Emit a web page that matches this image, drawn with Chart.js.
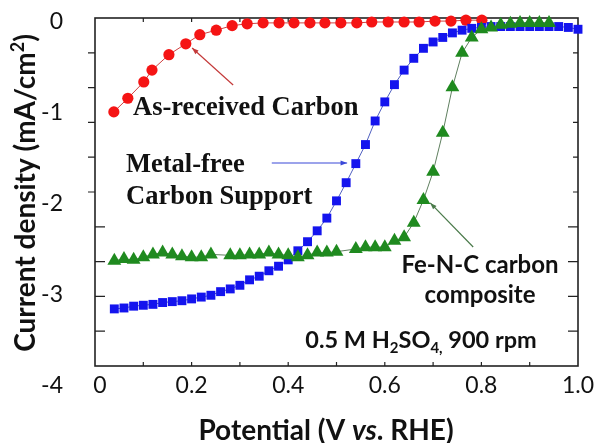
<!DOCTYPE html>
<html>
<head>
<meta charset="utf-8">
<script src="https://cdn.jsdelivr.net/npm/chart.js@4/dist/chart.umd.min.js"></script>
<style>
  html, body { margin: 0; padding: 0; background: #fff; }
  #wrap { width: 594px; height: 443px; }
</style>
</head>
<body>
<div id="wrap"><canvas id="grafico" width="594" height="443"></canvas></div>
<script>
// potential (V vs. RHE) against current density (mA/cm2)
const redX = [0.039, 0.068, 0.101, 0.118, 0.153, 0.188, 0.217, 0.251, 0.284, 0.315, 0.348, 0.381, 0.412,
  0.445, 0.476, 0.509, 0.542, 0.573, 0.607, 0.640, 0.671, 0.704, 0.737, 0.768, 0.801];
const redY = [-0.99, -0.84, -0.66, -0.53, -0.36, -0.24, -0.14, -0.09, -0.04, -0.02, -0.01, -0.01, -0.01,
  -0.01, -0.01, -0.01, -0.01, 0.00, 0.00, 0.00, 0.00, 0.01, 0.01, 0.02, 0.02];

const blueX = [0.04, 0.06, 0.08, 0.10, 0.12, 0.14, 0.16, 0.18, 0.20, 0.22, 0.24, 0.26, 0.28, 0.30, 0.32,
  0.34, 0.36, 0.38, 0.40, 0.42, 0.44, 0.46, 0.48, 0.50, 0.52, 0.54, 0.56, 0.58, 0.60, 0.62, 0.64, 0.66,
  0.68, 0.70, 0.72, 0.74, 0.76, 0.78, 0.80, 0.82, 0.84, 0.86, 0.88, 0.90, 0.92, 0.94, 0.96, 0.98, 1.00];
const blueY = [-3.16, -3.15, -3.13, -3.12, -3.11, -3.09, -3.08, -3.07, -3.05, -3.03, -3.01, -2.97, -2.94,
  -2.90, -2.84, -2.80, -2.74, -2.69, -2.62, -2.52, -2.42, -2.30, -2.16, -1.97, -1.77, -1.56, -1.35, -1.09,
  -0.88, -0.69, -0.53, -0.40, -0.29, -0.22, -0.17, -0.12, -0.09, -0.07, -0.06, -0.05, -0.05, -0.05, -0.05,
  -0.05, -0.05, -0.05, -0.05, -0.06, -0.08];

const greenX = [0.04, 0.06, 0.08, 0.10, 0.12, 0.14, 0.16, 0.18, 0.20, 0.22, 0.24, 0.28, 0.30, 0.32, 0.34,
  0.36, 0.38, 0.40, 0.42, 0.44, 0.46, 0.48, 0.50, 0.54, 0.56, 0.58, 0.60, 0.62, 0.64, 0.66, 0.68, 0.70,
  0.72, 0.74, 0.76, 0.78, 0.80, 0.82, 0.84, 0.86, 0.88, 0.90, 0.92, 0.94];
const greenY = [-2.63, -2.61, -2.62, -2.59, -2.56, -2.54, -2.56, -2.58, -2.59, -2.59, -2.56, -2.57, -2.57,
  -2.56, -2.56, -2.54, -2.56, -2.57, -2.59, -2.57, -2.54, -2.54, -2.53, -2.50, -2.48, -2.48, -2.48, -2.41,
  -2.37, -2.21, -1.96, -1.65, -1.22, -0.72, -0.34, -0.17, -0.08, -0.06, -0.03, -0.02, -0.01, -0.01, -0.01,
  -0.01];

const xTickLabels = ['0', '0.2', '0.4', '0.6', '0.8', '1.0'];
const xTickValues = [0, 0.2, 0.4, 0.6, 0.8, 1.0];
const yTickLabels = ['0', '-1', '-2', '-3', '-4'];
const yTickValues = [0, -1, -2, -3, -4];

const pts = (xs, ys) => xs.map((x, i) => ({ x: x, y: ys[i] }));

const SANS = 'Lato, "Open Sans", sans-serif';
const SERIF = '"Liberation Serif", "Times New Roman", serif';

// writes a line made of several font runs (sub/superscripts)
function runs(ctx, parts, x, y, align) {
  let total = 0;
  parts.forEach(p => { ctx.font = p.font; p.w = ctx.measureText(p.t).width; total += p.w; });
  let cx = align === 'center' ? x - total / 2 : (align === 'right' ? x - total : x);
  ctx.textAlign = 'left';
  ctx.textBaseline = 'alphabetic';
  parts.forEach(p => { ctx.font = p.font; ctx.fillText(p.t, cx, y + (p.dy || 0)); cx += p.w; });
}

function arrow(ctx, x0, y0, x1, y1, color) {
  ctx.save();
  ctx.strokeStyle = color;
  ctx.fillStyle = color;
  ctx.lineWidth = 1.2;
  ctx.beginPath();
  ctx.moveTo(x0, y0);
  ctx.lineTo(x1, y1);
  ctx.stroke();
  const a = Math.atan2(y1 - y0, x1 - x0);
  ctx.beginPath();
  ctx.moveTo(x1, y1);
  ctx.lineTo(x1 - 7 * Math.cos(a - 0.35), y1 - 7 * Math.sin(a - 0.35));
  ctx.lineTo(x1 - 7 * Math.cos(a + 0.35), y1 - 7 * Math.sin(a + 0.35));
  ctx.closePath();
  ctx.fill();
  ctx.restore();
}

const decor = {
  id: 'decor',
  beforeDatasetsDraw(chart) {
    const { ctx, chartArea: a, scales } = chart;
    const sx = scales.x;
    ctx.save();
    ctx.strokeStyle = '#222';
    ctx.lineWidth = 1.6;
    ctx.strokeRect(a.left, a.top, a.right - a.left, a.bottom - a.top);

    ctx.lineWidth = 1.2;
    ctx.beginPath();
    // x minor ticks every 0.1 V, top and bottom, pointing in
    for (let i = 1; i < 10; i++) {
      const px = sx.getPixelForValue(i / 10);
      ctx.moveTo(px, a.bottom); ctx.lineTo(px, a.bottom - 4);
      ctx.moveTo(px, a.top); ctx.lineTo(px, a.top + 4);
    }
    // y ticks: ten equal divisions of the frame
    const h = (a.bottom - a.top) / 10;
    for (let i = 1; i < 10; i++) {
      const py = a.top + i * h;
      if (i <= 5) {
        ctx.moveTo(a.left, py); ctx.lineTo(a.left - 7, py);
        ctx.moveTo(a.right, py); ctx.lineTo(a.right - 5, py);
      } else {
        ctx.moveTo(a.left, py); ctx.lineTo(a.left + 10, py);
        ctx.moveTo(a.right, py); ctx.lineTo(a.right - 10, py);
      }
    }
    ctx.stroke();
    ctx.restore();
  },
  afterDatasetsDraw(chart) {
    const { ctx, scales } = chart;
    const sx = scales.x, sy = scales.y;
    ctx.save();
    ctx.fillStyle = '#111';

    // tick labels
    ctx.font = '23px ' + SANS;
    ctx.textBaseline = 'middle';
    ctx.textAlign = 'right';
    yTickValues.forEach((v, i) => ctx.fillText(yTickLabels[i], 63, sy.getPixelForValue(v)));
    ctx.textAlign = 'center';
    xTickValues.forEach((v, i) => ctx.fillText(xTickLabels[i], sx.getPixelForValue(v) + (v === 0 ? 5 : 0), 386));

    // axis titles
    const bold = 'bold 28px ' + SANS;
    runs(ctx, [
      { t: 'Potential (V ', font: bold },
      { t: 'vs', font: 'italic bold 28px ' + SANS },
      { t: '. RHE)', font: bold }
    ], 326, 440, 'center');

    ctx.save();
    ctx.translate(35, 193);
    ctx.rotate(-Math.PI / 2);
    runs(ctx, [
      { t: 'Current density (mA/cm', font: bold },
      { t: '2', font: 'bold 18px ' + SANS, dy: -11 },
      { t: ')', font: bold }
    ], 0, 0, 'center');
    ctx.restore();

    // curve labels
    const serif = 'bold 26.5px ' + SERIF;
    runs(ctx, [{ t: 'As-received Carbon', font: serif }], 133, 115, 'left');
    runs(ctx, [{ t: 'Metal-free', font: serif }], 126, 172, 'left');
    runs(ctx, [{ t: 'Carbon Support', font: serif }], 126, 204, 'left');

    const sb = 'bold 24px ' + SANS;
    runs(ctx, [{ t: 'Fe-N-C carbon', font: sb }], 480, 273, 'center');
    runs(ctx, [{ t: 'composite', font: sb }], 480, 303, 'center');

    const cb = 'bold 23.5px ' + SANS;
    const sub = 'bold 15px ' + SANS;
    runs(ctx, [
      { t: '0.5 M H', font: cb },
      { t: '2', font: sub, dy: 5 },
      { t: 'SO', font: cb },
      { t: '4,', font: sub, dy: 5 },
      { t: ' 900 rpm', font: cb }
    ], 421, 348, 'center');

    // pointer lines to the curves
    const P = (x, y) => [sx.getPixelForValue(x), sy.getPixelForValue(y)];
    let p0 = P(0.286, -0.694), p1 = P(0.201, -0.286);
    arrow(ctx, p0[0], p0[1], p1[0], p1[1], '#c43a3a');
    p0 = P(0.366, -1.553); p1 = P(0.522, -1.553);
    arrow(ctx, p0[0], p0[1], p1[0], p1[1], '#3a48d8');
    p0 = P(0.783, -2.478); p1 = P(0.694, -1.993);
    arrow(ctx, p0[0], p0[1], p1[0], p1[1], '#4a7a4a');
    ctx.restore();
  }
};

new Chart(document.getElementById('grafico'), {
  type: 'scatter',
  data: {
    datasets: [
      {
        label: 'Fe-N-C carbon composite',
        data: pts(greenX, greenY),
        showLine: true,
        borderColor: '#5f7f5f',
        borderWidth: 1,
        backgroundColor: '#1f8a1f',
        pointBackgroundColor: '#1f8a1f',
        pointBorderColor: '#1f8a1f',
        pointBorderWidth: 0,
        pointStyle: 'triangle',
        pointRadius: 8,
        clip: false,
        order: 0
      },
      {
        label: 'Metal-free Carbon Support',
        data: pts(blueX, blueY),
        showLine: true,
        borderColor: '#5060c0',
        borderWidth: 1,
        backgroundColor: '#1414ee',
        pointBackgroundColor: '#1414ee',
        pointBorderColor: '#1414ee',
        pointBorderWidth: 0,
        pointStyle: 'rect',
        pointRadius: 6.3,
        clip: false,
        order: 1
      },
      {
        label: 'As-received Carbon',
        data: pts(redX, redY),
        showLine: true,
        borderColor: '#d04040',
        borderWidth: 1,
        backgroundColor: '#f51414',
        pointBackgroundColor: '#f51414',
        pointBorderColor: '#f51414',
        pointBorderWidth: 0,
        pointStyle: 'circle',
        pointRadius: 5.6,
        clip: false,
        order: 2
      }
    ]
  },
  options: {
    responsive: false,
    animation: false,
    layout: { padding: { left: 95, top: 18, right: 16, bottom: 77 } },
    scales: {
      x: { type: 'linear', min: 0, max: 1, display: false },
      y: { type: 'linear', min: -3.789, max: 0.044, display: false }
    },
    plugins: {
      legend: { display: false },
      tooltip: { enabled: false }
    }
  },
  plugins: [decor]
});
</script>
</body>
</html>
